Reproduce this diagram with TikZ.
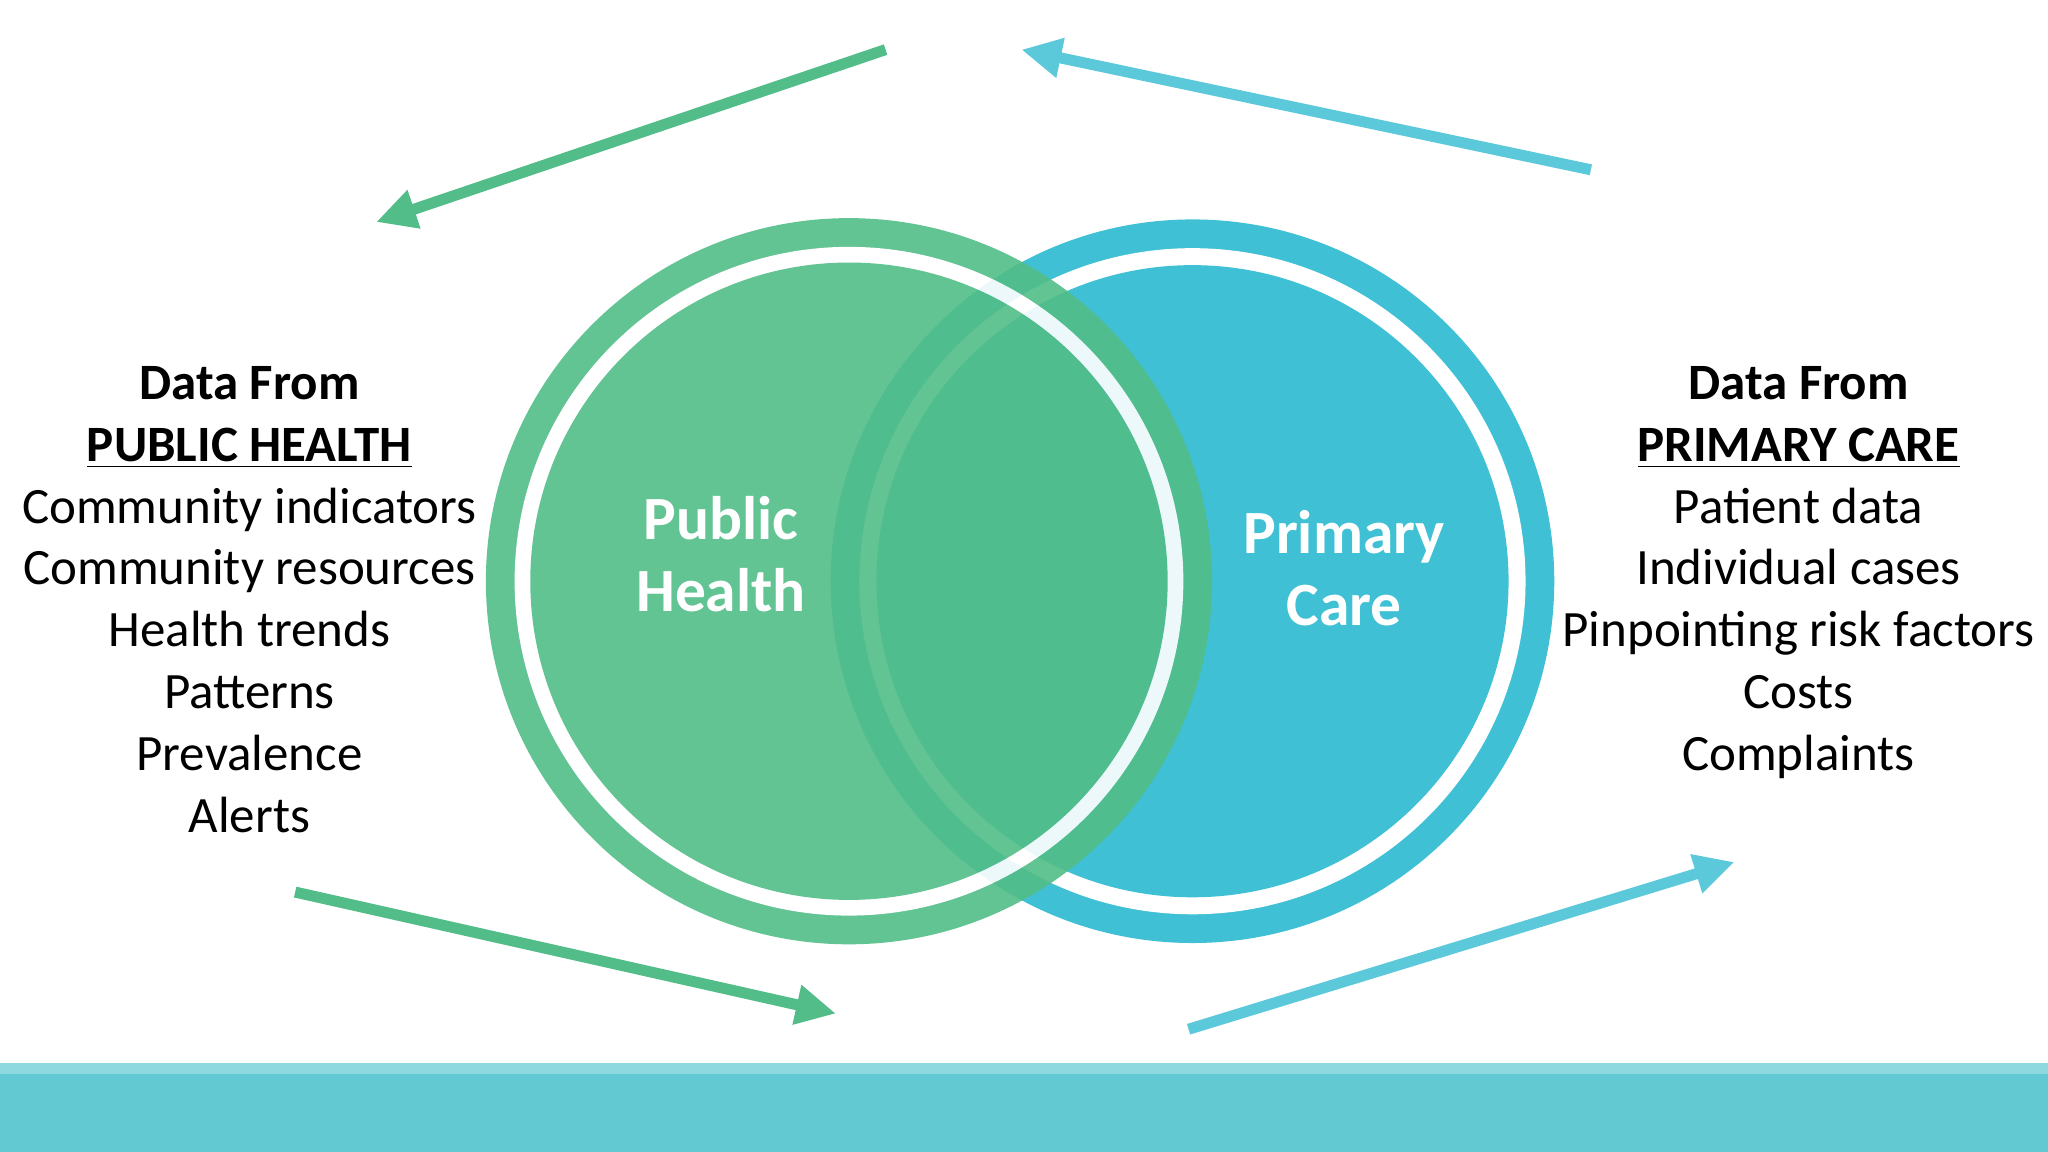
\documentclass[tikz,border=0pt]{standalone}
\usepackage{fontspec}
\setmainfont{Carlito}
\usetikzlibrary{arrows.meta}
\definecolor{gr}{HTML}{52BD88}
\definecolor{bl}{HTML}{3FC0D4}
\definecolor{band}{HTML}{62C9D3}
\definecolor{bandtop}{HTML}{8ED8DF}
\tikzset{
  arr/.style={line width=0.11cm,-{Triangle[length=0.4cm,width=0.38cm]}},
  side/.style={align=center,font=\fontsize{14.5}{17.6}\selectfont,text=black},
  inlabel/.style={align=center,text=white,font=\fontsize{17.5}{20.5}\selectfont\bfseries}
}
\begin{document}
\begin{tikzpicture}[x=0.01306cm,y=-0.01306cm]
\useasboundingbox (0,0) rectangle (1568,882);
\fill[white] (0,0) rectangle (1568,882);
% blue circle
\fill[bl] (913,445) circle (277);
\fill[white] (913,445) circle (255);
\fill[bl] (913,445) circle (242);
% green circle with transparency
\begin{scope}[opacity=0.9,transparency group]
\fill[gr] (650,445) circle (278);
\fill[white] (650,445) circle (256);
\fill[gr] (650,445) circle (244);
\end{scope}
% labels
\node[inlabel] (ph) at (552,424) {Public\\Health};
\node[inlabel] (pc) at (1029,435) {Primary\\Care};
\node[side,anchor=north] (lt) at (191,271) {\textbf{Data From}\\\textbf{\underline{PUBLIC HEALTH}}\\Community indicators\\Community resources\\Health trends\\Patterns\\Prevalence\\Alerts};
\node[side,anchor=north] (rt) at (1377,271) {\textbf{Data From}\\\textbf{\underline{PRIMARY CARE}}\\Patient data\\Individual cases\\Pinpointing risk factors\\Costs\\Complaints};
% arrows
\coordinate (g1s) at (678,38); \coordinate (g1e) at (288,170);
\coordinate (g2s) at (226,683); \coordinate (g2e) at (640,776);
\coordinate (b1s) at (1218,130); \coordinate (b1e) at (782,38);
\coordinate (b2s) at (910,788); \coordinate (b2e) at (1328,660);
\draw[arr,gr] (g1s) -- (g1e);
\draw[arr,gr] (g2s) -- (g2e);
\draw[arr,bl!85!white] (b1s) -- (b1e);
\draw[arr,bl!85!white] (b2s) -- (b2e);
% band
\fill[band] (0,814) rectangle (1568,882);
\fill[bandtop] (0,814) rectangle (1568,822);
\end{tikzpicture}
\end{document}
